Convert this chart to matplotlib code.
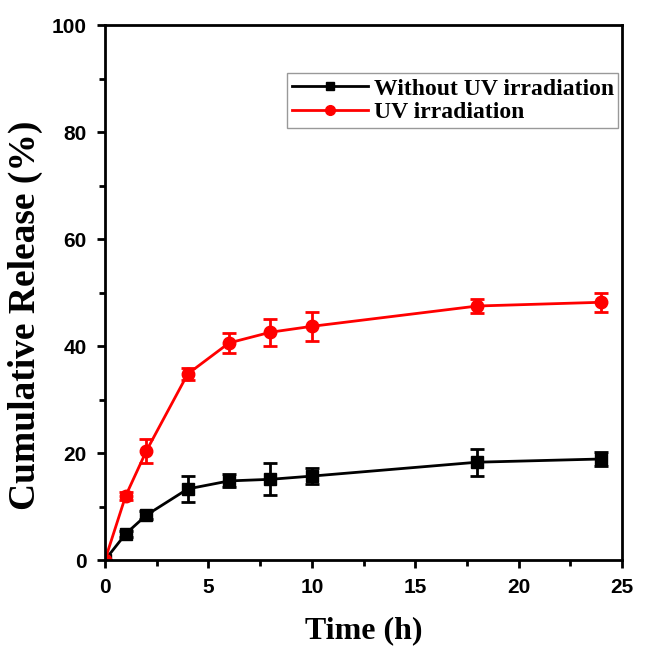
from matplotlib import pyplot as plt
from matplotlib.lines import Line2D
import numpy as np

plt.rcParams["font.family"] = "Liberation Serif"
plt.rcParams["font.weight"] = "bold"

time_h = [0, 1, 2, 4, 6, 8, 10, 18, 24]
no_uv = [0, 4.9, 8.4, 13.3, 14.8, 15.1, 15.7, 18.3, 18.9]
no_uv_err = [0, 0.5, 0.8, 2.5, 1.2, 3.0, 1.5, 2.5, 1.3]
uv = [0, 12.0, 20.4, 34.8, 40.6, 42.6, 43.7, 47.5, 48.2]
uv_err = [0, 0.8, 2.3, 1.2, 1.8, 2.5, 2.7, 1.3, 1.8]

fig = plt.figure(figsize=(6.46, 6.46), dpi=100)
ax = fig.add_axes([0.1625, 0.133, 0.8005, 0.828])

ax.errorbar(time_h, no_uv, yerr=no_uv_err, color="black", marker="s", markersize=8,
            lw=2, elinewidth=2, capsize=5, capthick=2)
ax.errorbar(time_h, uv, yerr=uv_err, color="red", marker="o", markersize=9,
            lw=2, elinewidth=2, capsize=5, capthick=2)

ax.set_xlim(0, 25)
ax.set_ylim(0, 100)
ax.set_xticks(np.arange(0, 26, 5))
ax.set_xticks(np.arange(2.5, 25, 5), minor=True)
ax.set_yticks(np.arange(0, 101, 20))
ax.set_yticks(np.arange(10, 100, 20), minor=True)
ax.tick_params(which="major", length=6, width=2, labelsize=15)
ax.tick_params(axis="x", which="major", pad=7)
ax.tick_params(axis="y", which="major", pad=7)
ax.tick_params(which="minor", length=4, width=2)
for lab in ax.get_xticklabels() + ax.get_yticklabels():
    lab.set_family("Liberation Sans")
    lab.set_weight("bold")
for s in ax.spines.values():
    s.set_linewidth(2)

ax.set_xlabel("Time (h)", fontsize=23, fontweight="bold", labelpad=14)
ax.set_ylabel("Cumulative Release (%)", fontsize=27, fontweight="bold")
ax.yaxis.set_label_coords(-0.12, 0.458)

handles = [
    Line2D([], [], color="black", lw=2, marker="s", markersize=6),
    Line2D([], [], color="red", lw=2, marker="o", markersize=7),
]
labels = ["Without UV irradiation", "UV irradiation"]
leg = ax.legend(handles, labels, loc="upper right", bbox_to_anchor=(0.993, 0.91),
                fontsize=17, fancybox=False, edgecolor="gray", handlelength=3.2,
                handletextpad=0.25, borderpad=0.2, labelspacing=0.1, borderaxespad=0)
leg.get_frame().set_linewidth(1)

plt.savefig("out.png")
